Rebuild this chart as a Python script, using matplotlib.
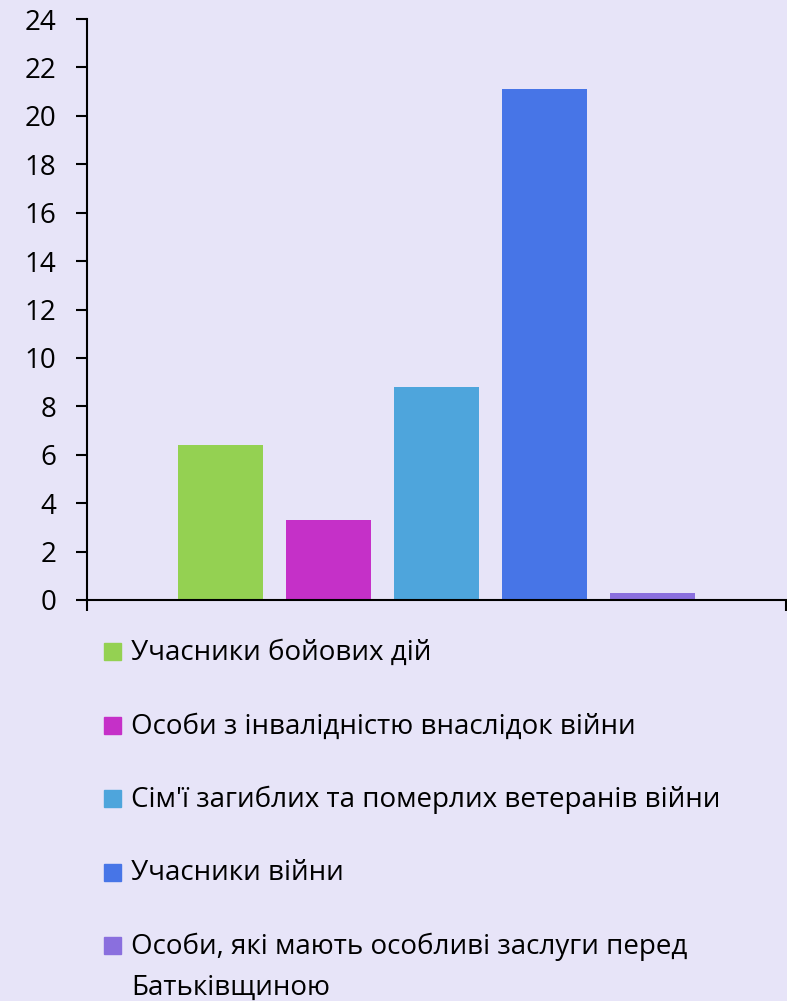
import matplotlib.pyplot as plt
from matplotlib.patches import Rectangle
import numpy as np

plt.rcParams['font.family'] = ['Open Sans', 'DejaVu Sans']

labels = ['Учасники бойових дій',
          'Особи з інвалідністю внаслідок війни',
          "Сім'ї загиблих та померлих ветеранів війни",
          'Учасники війни',
          'Особи, які мають особливі заслуги перед\nБатьківщиною']
values = [6.4, 3.3, 8.8, 21.1, 0.3]
colors = ['#94D152', '#C530C8', '#4EA5DC', '#4775E7', '#8A6FDE']
yticks = np.arange(0, 25, 2)

W, H = 787, 1001
bg = '#E7E4F8'
fig = plt.figure(figsize=(W / 100, H / 100), dpi=100, facecolor=bg)
ax = fig.add_axes([87 / W, 401 / H, 699 / W, 581 / H])
ax.set_facecolor(bg)

step = 0.1543
width = 0.1214
for i, (v, c, lab) in enumerate(zip(values, colors, labels)):
    ax.bar((i - 2) * step, v, width=width, color=c, label=lab)

ax.set_xlim(-0.5, 0.5)
ax.set_ylim(0, 24)
ax.set_yticks(yticks)
ax.set_xticks([-0.5, 0.5])
ax.set_xticklabels([])
ax.tick_params(axis='y', length=8, width=1.5, labelsize=20, pad=14)
ax.tick_params(axis='x', length=8, width=1.5)
for s in ['top', 'right']:
    ax.spines[s].set_visible(False)
for s in ['left', 'bottom']:
    ax.spines[s].set_linewidth(1.5)
ax.spines['bottom'].set_clip_on(False)

# legend drawn by hand so the square sits on the first line of wrapped text
for i, (lab, c) in enumerate(zip(labels, colors)):
    base = 660 + 73.5 * i
    fig.patches.append(Rectangle((104 / W, 1 - base / H), 17 / W, 17 / H,
                                 transform=fig.transFigure, color=c))
    for j, line in enumerate(lab.split('\n')):
        fig.text(131 / W, 1 - (base + 41 * j) / H, line, fontsize=20,
                 va='baseline', ha='left')

fig.savefig('out.png', dpi=100, facecolor=bg)
